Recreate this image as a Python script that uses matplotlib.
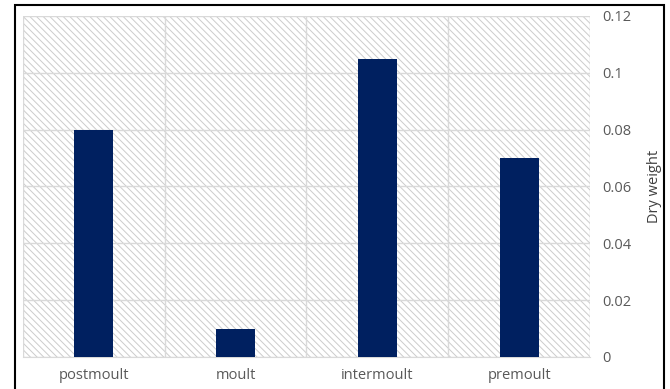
import matplotlib
matplotlib.use("Agg")
import matplotlib.pyplot as plt
from matplotlib.patches import Rectangle

plt.rcParams["font.family"] = "Open Sans"
plt.rcParams["hatch.linewidth"] = 0.7
plt.rcParams["hatch.color"] = "#cccccc"

stages = ["postmoult", "moult", "intermoult", "premoult"]
dry_weight = [0.08, 0.01, 0.105, 0.07]
yticks = [0, 0.02, 0.04, 0.06, 0.08, 0.1, 0.12]
ytick_labels = ["0", "0.02", "0.04", "0.06", "0.08", "0.1", "0.12"]

fig = plt.figure(figsize=(6.7, 3.89), dpi=100)
ax = fig.add_axes([0.0343, 0.0823, 0.8463, 0.8766])

# hatched plot background
ax.add_patch(Rectangle((0, 0), 1, 1, transform=ax.transAxes, facecolor="white",
                       edgecolor="#cccccc", hatch="\\\\\\\\\\", linewidth=0, zorder=0))

x = range(len(stages))
ax.bar(x, dry_weight, width=0.275, color="#002060", zorder=3)

ax.set_xlim(-0.5, len(stages) - 0.5)
ax.set_ylim(0, 0.12)
ax.set_xticks(list(x))
ax.set_xticklabels(stages)
ax.set_xticks([i + 0.5 for i in range(-1, len(stages))], minor=True)
ax.set_yticks(yticks)
ax.set_yticklabels(ytick_labels)

ax.yaxis.tick_right()
ax.yaxis.set_label_position("right")
ax.set_ylabel("Dry weight", fontsize=10.5, color="#404040", labelpad=11)

ax.grid(axis="y", which="major", color="#d9d9d9", linewidth=1, zorder=1)
ax.grid(axis="x", which="minor", color="#d9d9d9", linewidth=1, zorder=1)
ax.tick_params(axis="both", which="both", length=0, labelsize=10.5, colors="#595959")
ax.tick_params(axis="y", pad=9)
ax.tick_params(axis="x", pad=8)
for s in ax.spines.values():
    s.set_visible(False)
ax.spines["bottom"].set_visible(True)
ax.spines["bottom"].set_color("#d9d9d9")

# outer frame
fig.add_artist(Rectangle((15 / 670, -0.05), 649 / 670, (384 / 389) + 0.05,
                         transform=fig.transFigure, fill=False,
                         edgecolor="black", linewidth=1.5))

fig.savefig("out.png", dpi=100, facecolor="white")
